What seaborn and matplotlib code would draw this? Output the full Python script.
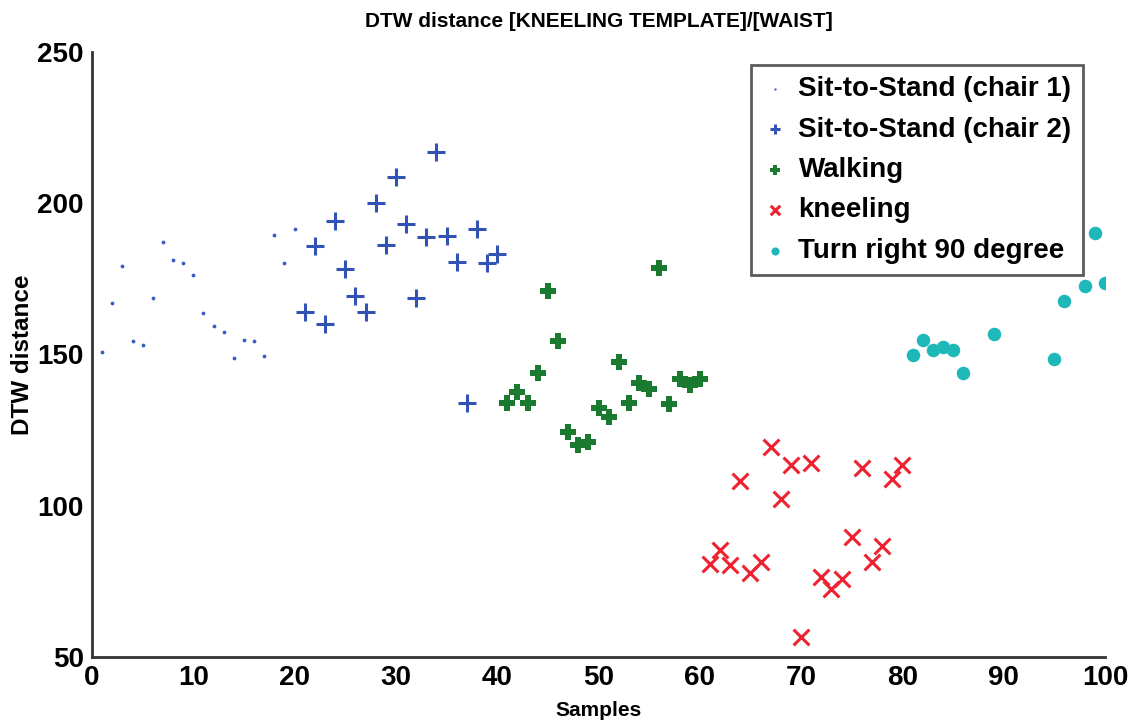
import matplotlib
matplotlib.use("Agg")
import matplotlib.pyplot as plt
import seaborn as sns
import pandas as pd

# ---- data ----
chair1_x = list(range(1, 21))
chair1_y = [150.8, 166.9, 179.2, 154.4, 153.2, 168.8, 187.3, 181.3, 180.2, 176.2,
            163.6, 159.5, 157.3, 148.7, 154.8, 154.4, 149.5, 189.4, 180.2, 191.4]

chair2_x = list(range(21, 41))
chair2_y = [164.2, 185.9, 160.1, 194.2, 178.2, 169.4, 164.2, 200.0, 186.2, 208.8,
            193.0, 168.6, 188.7, 217.0, 189.2, 180.7, 134.1, 191.4, 180.2, 183.2]

walking_x = list(range(41, 61))
walking_y = [133.9, 137.7, 134.1, 143.8, 171.1, 154.5, 124.4, 120.0, 121.1, 132.2,
             129.4, 147.6, 133.9, 140.5, 138.5, 178.5, 133.7, 141.8, 139.9, 141.8]

kneel_x = list(range(61, 81))
kneel_y = [80.7, 85.4, 80.4, 108.2, 77.7, 81.5, 119.3, 102.1, 113.5, 56.7,
           114.2, 76.6, 72.4, 75.7, 89.8, 112.4, 81.5, 86.7, 108.7, 113.5]

turn_x = [81, 82, 83, 84, 85, 86, 89, 95, 96, 98, 99, 100]
turn_y = [149.8, 154.8, 151.5, 152.4, 151.5, 144.0, 156.8, 148.4, 167.8, 172.6, 190.3, 173.7]

labels = ["Sit-to-Stand (chair 1)", "Sit-to-Stand (chair 2)", "Walking",
          "kneeling", "Turn right 90 degree"]

frames = []
for lab, xs, ys in zip(labels, [chair1_x, chair2_x, walking_x, kneel_x, turn_x],
                       [chair1_y, chair2_y, walking_y, kneel_y, turn_y]):
    frames.append(pd.DataFrame({"Samples": xs, "DTW": ys, "Activity": lab}))
df = pd.concat(frames, ignore_index=True)

sns.set_theme(style="white")
plt.rcParams['font.family'] = ['Liberation Sans', 'DejaVu Sans']
plt.rcParams['text.color'] = 'black'
plt.rcParams['axes.labelcolor'] = 'black'
plt.rcParams['xtick.color'] = 'black'
plt.rcParams['ytick.color'] = 'black'

fig = plt.figure(figsize=(11.4, 7.26), dpi=100)
ax = fig.add_axes([92/1140, 1-657/726, (1105-92)/1140, (657-52)/726])

styles = {
    labels[0]: dict(marker='.', s=30, color='#3a5cc0', linewidth=0),
    labels[1]: dict(marker='+', s=160, color='#3352b5', linewidth=2.2),
    labels[2]: dict(marker='P', s=130, color='#1a7a30', linewidth=0),
    labels[3]: dict(marker='x', s=130, color='#ee2230', linewidth=2.2),
    labels[4]: dict(marker='o', s=95, color='#1fb8b8', linewidth=0),
}
for lab in labels:
    sub = df[df["Activity"] == lab]
    sns.scatterplot(data=sub, x="Samples", y="DTW", ax=ax, label=lab, **styles[lab])

ax.set_xlim(0, 100)
ax.set_ylim(50, 250)
ax.set_xticks(range(0, 101, 10))
ax.set_yticks(range(50, 251, 50))
for s in ['top', 'right']:
    ax.spines[s].set_visible(False)
for s in ['left', 'bottom']:
    ax.spines[s].set_linewidth(2)
    ax.spines[s].set_color('#333333')
ax.tick_params(direction='in', length=10, width=2, color='#333333',
               labelsize=20, pad=6, labelcolor='black')
for t in ax.get_xticklabels() + ax.get_yticklabels():
    t.set_fontweight('bold')

ax.set_xlabel("Samples", fontsize=15, fontweight='bold', labelpad=7)
ax.set_ylabel("DTW distance", fontsize=17.5, fontweight='bold', labelpad=2)
ax.set_title("DTW distance [KNEELING TEMPLATE]/[WAIST]", fontsize=15,
             fontweight='bold', pad=18)

leg = ax.legend(loc='upper right', bbox_to_anchor=(0.978, 0.9785), borderaxespad=0,
                fancybox=False, frameon=True, edgecolor='#333333',
                handletextpad=0.4, borderpad=0.4, labelspacing=0.52,
                handlelength=0.9, markerscale=0.6,
                prop={'weight': 'bold', 'size': 20})
leg.get_frame().set_linewidth(2)
for t in leg.get_texts():
    t.set_color('black')

fig.savefig("out.png", dpi=100, facecolor='white')
